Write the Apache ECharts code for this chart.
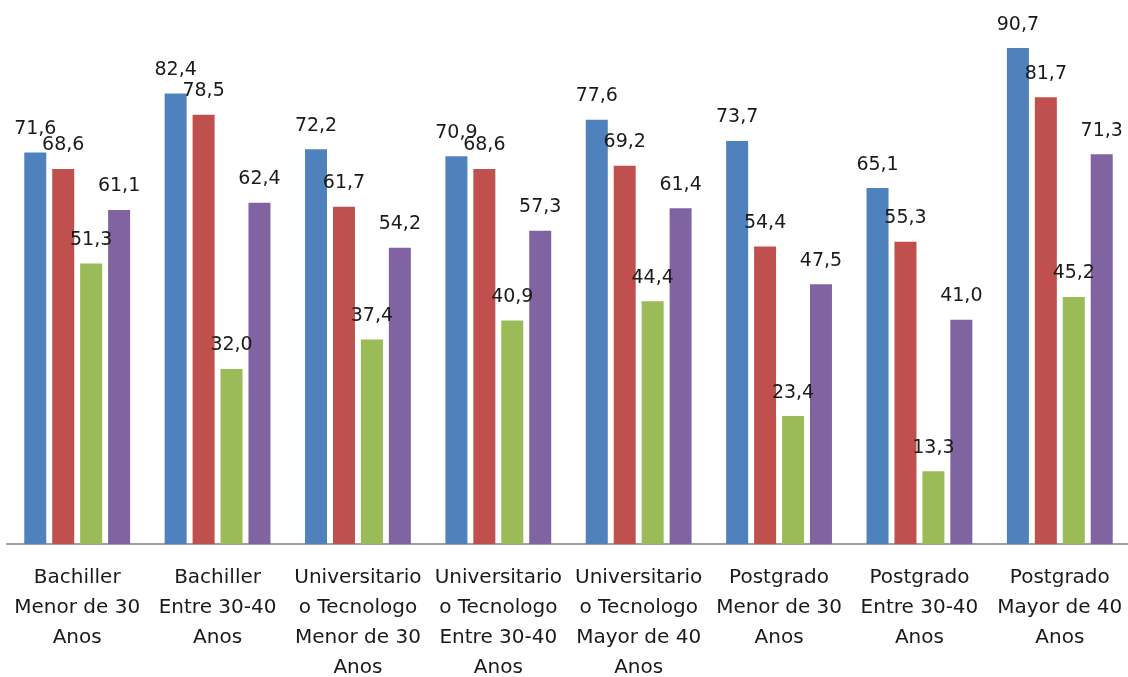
<!DOCTYPE html>
<html>
<head>
<meta charset="utf-8">
<script src="https://cdn.jsdelivr.net/npm/echarts@6/dist/echarts.min.js"></script>
<style>
  html, body { margin: 0; padding: 0; background: #fff; overflow: hidden; }
  #chart { width: 1128px; height: 677px; }
</style>
</head>
<body>
<div id="chart"></div>
<script>
// categorias (eje x)
const categories = [
    'Bachiller\nMenor de 30\nAnos',
    'Bachiller\nEntre 30-40\nAnos',
    'Universitario\no Tecnologo\nMenor de 30\nAnos',
    'Universitario\no Tecnologo\nEntre 30-40\nAnos',
    'Universitario\no Tecnologo\nMayor de 40\nAnos',
    'Postgrado\nMenor de 30\nAnos',
    'Postgrado\nEntre 30-40\nAnos',
    'Postgrado\nMayor de 40\nAnos'
];

// valores de las 4 series
const serie1 = [71.6, 82.4, 72.2, 70.9, 77.6, 73.7, 65.1, 90.7];
const serie2 = [68.6, 78.5, 61.7, 68.6, 69.2, 54.4, 55.3, 81.7];
const serie3 = [51.3, 32.0, 37.4, 40.9, 44.4, 23.4, 13.3, 45.2];
const serie4 = [61.1, 62.4, 54.2, 57.3, 61.4, 47.5, 41.0, 71.3];

const colors = ['#4F81BD', '#C0504D', '#9BBB59', '#8064A2'];
const fontFamily = '"DejaVu Sans", sans-serif';

function makeSeries(name, data) {
    return {
        name: name,
        type: 'bar',
        data: data,
        barWidth: 22,
        barGap: '27%',
        label: {
            show: true,
            position: 'top',
            distance: 14,
            color: '#1a1a1a',
            fontSize: 19,
            fontFamily: fontFamily,
            formatter: function (p) {
                return p.value.toFixed(1).replace('.', ',');
            }
        }
    };
}

let chart = echarts.init(document.getElementById('chart'));
let option = {
    animation: false,
    color: colors,
    grid: {
        left: 7,
        width: 1123,
        top: 0,
        height: 544,
        containLabel: false,
        outerBoundsMode: 'none'   // no encoger el grid por las etiquetas
    },
    xAxis: {
        type: 'category',
        data: categories,
        axisLine: { show: true, lineStyle: { color: '#9e9e9e', width: 2 } },
        axisTick: { show: false },
        axisLabel: {
            interval: 0,
            color: '#1a1a1a',
            fontSize: 20,
            fontFamily: fontFamily,
            lineHeight: 30,
            margin: 19
        }
    },
    yAxis: {
        type: 'value',
        min: 0,
        max: 99.5,
        show: false,
        splitLine: { show: false }
    },
    series: [
        makeSeries('Serie 1', serie1),
        makeSeries('Serie 2', serie2),
        makeSeries('Serie 3', serie3),
        makeSeries('Serie 4', serie4)
    ]
};
chart.setOption(option);
</script>
</body>
</html>
